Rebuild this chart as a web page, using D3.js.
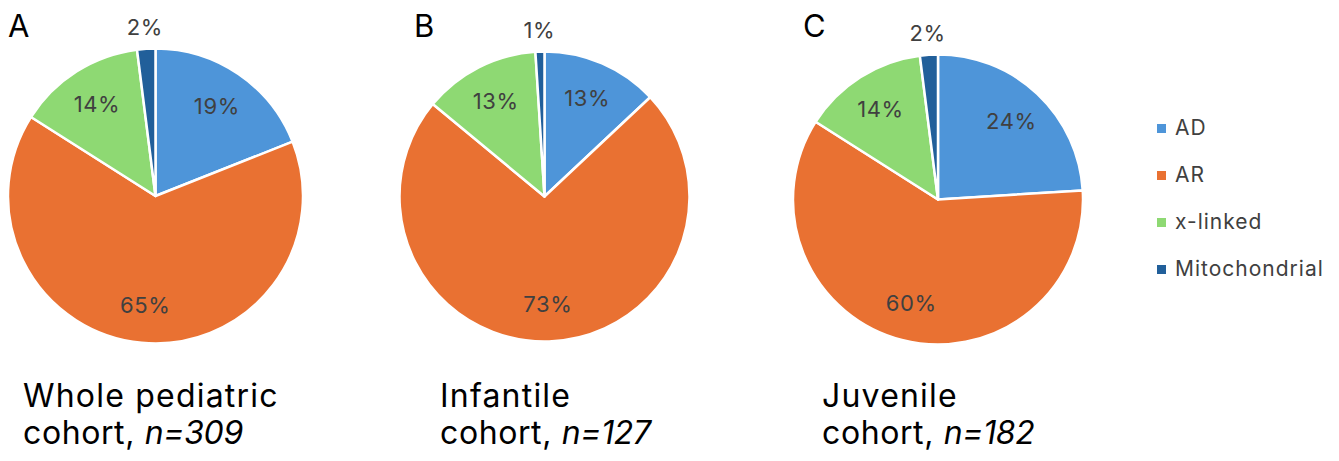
<!DOCTYPE html>
<html>
<head>
<meta charset="utf-8">
<script src="https://cdn.jsdelivr.net/npm/d3@7/dist/d3.min.js"></script>
<style>
  html, body { margin: 0; padding: 0; background: #ffffff; }
  svg { display: block; font-family: Inter, "Open Sans", "Liberation Sans", sans-serif; }
</style>
</head>
<body>
<svg id="chart" width="1339" height="461"></svg>
<script>
// Inheritance categories (slice order, clockwise from 12 o'clock)
const categories = ["AD", "AR", "x-linked", "Mitochondrial"];

// Percentage of patients per inheritance mode in each cohort
const wholeValues = [19, 65, 14, 2];
const infantileValues = [13, 73, 13, 1];
const juvenileValues = [24, 60, 14, 2];

// Panel letters and cohort captions
const panelLetters = ["A", "B", "C"];
const cohortNames = ["Whole pediatric", "Infantile", "Juvenile"];
const cohortSizes = [309, 127, 182];

const colors = ["#4E95D9", "#E97132", "#8ED973", "#215F9A"];
const color = d3.scaleOrdinal().domain(categories).range(colors);

const svg = d3.select("#chart");

// Layout of the three panels
const panels = [
  { values: wholeValues,     cx: 155.5, cy: 196,   r: 147.5, letterX: 8,   captionX: 23 },
  { values: infantileValues, cx: 544.5, cy: 196.5, r: 145,   letterX: 414, captionX: 440 },
  { values: juvenileValues,  cx: 938,   cy: 199.5, r: 145,   letterX: 803, captionX: 822 }
];

const pie = d3.pie().sort(null).value(d => d.value);

panels.forEach((p, i) => {
  const data = categories.map((c, k) => ({ category: c, value: p.values[k] }));
  const arcs = pie(data);
  const arc = d3.arc().innerRadius(0).outerRadius(p.r);
  const labelArc = d3.arc().innerRadius(p.r * 0.74).outerRadius(p.r * 0.74);
  const outerLabelArc = d3.arc().innerRadius(p.r + 22).outerRadius(p.r + 22);

  const g = svg.append("g").attr("transform", `translate(${p.cx},${p.cy})`);

  g.selectAll("path.slice")
    .data(arcs)
    .join("path")
    .attr("class", "slice")
    .attr("d", arc)
    .attr("fill", d => color(d.data.category))
    .attr("stroke", "#ffffff")
    .attr("stroke-width", 2.5)
    .attr("stroke-linejoin", "round");

  g.selectAll("text.pct")
    .data(arcs)
    .join("text")
    .attr("class", "pct")
    .attr("transform", d => {
      const small = d.data.value < 5;
      const [x, y] = (small ? outerLabelArc : labelArc).centroid(d);
      return `translate(${x},${y})`;
    })
    .attr("text-anchor", "middle")
    .attr("dominant-baseline", "central")
    .attr("font-size", 22)
    .attr("letter-spacing", 0.6)
    .attr("fill", "#404040")
    .text(d => d.data.value + "%");

  // Panel letter
  svg.append("text")
    .attr("x", p.letterX)
    .attr("y", 37)
    .attr("font-size", 31)
    .attr("fill", "#000000")
    .text(panelLetters[i]);

  // Cohort caption (two lines, sample size in italics)
  svg.append("text")
    .attr("x", p.captionX)
    .attr("y", 407)
    .attr("font-size", 32)
    .attr("letter-spacing", 1.2)
    .attr("fill", "#000000")
    .text(cohortNames[i]);
  const line2 = svg.append("text")
    .attr("x", p.captionX)
    .attr("y", 444)
    .attr("font-size", 32)
    .attr("fill", "#000000");
  line2.append("tspan").attr("letter-spacing", 0.6).text("cohort, ");
  line2.append("tspan").attr("font-style", "italic").attr("letter-spacing", -0.3).text("n=" + cohortSizes[i]);
});

// Legend
const legendY = d3.scalePoint().domain(categories).range([135, 276]);
const legend = svg.append("g");
const item = legend.selectAll("g.item")
  .data(categories)
  .join("g")
  .attr("class", "item")
  .attr("transform", d => `translate(1157,${legendY(d)})`);
item.append("rect")
  .attr("x", 0)
  .attr("y", -11)
  .attr("width", 9)
  .attr("height", 9)
  .attr("fill", d => color(d));
item.append("text")
  .attr("x", 18)
  .attr("y", 0)
  .attr("font-size", 21)
  .attr("letter-spacing", 1)
  .attr("fill", "#404040")
  .text(d => d);
</script>
</body>
</html>
